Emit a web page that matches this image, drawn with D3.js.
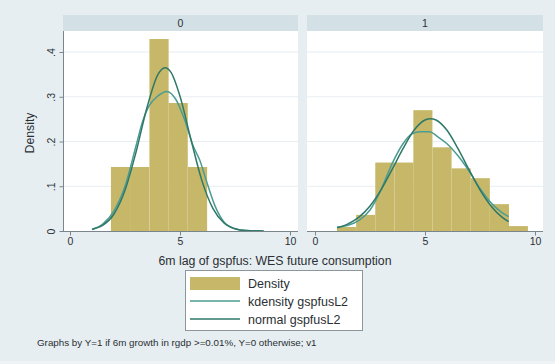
<!DOCTYPE html>
<html>
<head>
<meta charset="utf-8">
<script src="https://cdn.jsdelivr.net/npm/d3@7"></script>
<style>
  html, body { margin: 0; padding: 0; background: #eef3f5; }
  svg { display: block; font-family: "Liberation Sans", Arial, sans-serif; }
</style>
</head>
<body>
<svg id="chart" width="555" height="364"></svg>
<script>
// Panels (by group Y)
const panels = ["0", "1"];

// Histogram bins: left edges and bar densities for each panel
const binStart0 = [1.86, 2.73, 3.61, 4.48, 5.36];
const binDens0  = [0.143, 0.143, 0.429, 0.286, 0.143];
const binWidth0 = 0.873;

const binStart1 = [1.0, 1.87, 2.74, 3.61, 4.47, 5.34, 6.21, 7.08, 7.95, 8.81];
const binDens1  = [0.009, 0.036, 0.153, 0.153, 0.270, 0.187, 0.140, 0.118, 0.060, 0.011];
const binWidth1 = 0.868;

// Kernel density curve (x, density)
const kdX0 = [1.0, 1.5, 2.0, 2.5, 3.0, 3.3, 3.6, 4.0, 4.4, 4.8, 5.2, 5.6, 5.9, 6.2, 6.6, 7.0, 7.5, 8.0, 8.8];
const kdY0 = [0.003, 0.016, 0.045, 0.10, 0.19, 0.245, 0.28, 0.302, 0.312, 0.295, 0.25, 0.19, 0.158, 0.112, 0.055, 0.02, 0.005, 0.001, 0.0];
const kdX1 = [1.0, 1.5, 2.0, 2.5, 3.0, 3.5, 4.0, 4.4, 4.8, 5.2, 5.6, 6.0, 6.5, 7.0, 7.5, 8.0, 8.5, 8.8];
const kdY1 = [0.009, 0.013, 0.024, 0.047, 0.092, 0.15, 0.195, 0.217, 0.222, 0.222, 0.21, 0.195, 0.168, 0.134, 0.095, 0.063, 0.041, 0.032];

// Normal curve (x, density)
const nmX0 = [1.0, 1.5, 2.0, 2.5, 3.0, 3.5, 4.0, 4.32, 4.6, 5.0, 5.5, 6.0, 6.5, 7.0, 7.5, 8.0, 8.8];
const nmY0 = [0.004, 0.013, 0.038, 0.091, 0.176, 0.276, 0.35, 0.365, 0.354, 0.301, 0.204, 0.112, 0.05, 0.018, 0.005, 0.001, 0.0];
const nmX1 = [1.0, 1.5, 2.0, 2.5, 3.0, 3.5, 4.0, 4.5, 5.0, 5.25, 5.5, 6.0, 6.5, 7.0, 7.5, 8.0, 8.5, 8.8];
const nmY1 = [0.007, 0.016, 0.031, 0.056, 0.092, 0.137, 0.184, 0.225, 0.248, 0.251, 0.248, 0.225, 0.184, 0.137, 0.092, 0.056, 0.031, 0.021];

// Axis ticks and labels
const xTicks = [0, 5, 10];
const yTicks = [0, 0.1, 0.2, 0.3, 0.4];
const yTickLabels = ["0", ".1", ".2", ".3", ".4"];

const xTitle = "6m lag of gspfus: WES future consumption";
const yTitle = "Density";
const legendLabels = ["Density", "kdensity gspfusL2", "normal gspfusL2"];
const note = "Graphs by Y=1 if 6m growth in rgdp >=0.01%, Y=0 otherwise; v1";

const colBar = "#c6b868";
const colKd = "#4b9c92";
const colNm = "#2f7868";
const colBg = "#e6eef1";
const colStrip = "#d3e0e6";
const colGrid = "#e8eef1";
const colAxis = "#7b868c";
const colText = "#2b2f33";
const fontFam = "Liberation Sans, Arial, sans-serif";

const svg = d3.select("#chart");
svg.append("rect").attr("x", 0).attr("y", 0).attr("width", 555).attr("height", 361).attr("fill", colBg);

const panelData = [
  { name: panels[0], x0: 63, x1: 298, r0: 70, r1: 290,
    bins: binStart0.map((s, i) => ({ s, d: binDens0[i], w: binWidth0 })),
    kd: kdX0.map((x, i) => [x, kdY0[i]]), nm: nmX0.map((x, i) => [x, nmY0[i]]) },
  { name: panels[1], x0: 307, x1: 543, r0: 315, r1: 535,
    bins: binStart1.map((s, i) => ({ s, d: binDens1[i], w: binWidth1 })),
    kd: kdX1.map((x, i) => [x, kdY1[i]]), nm: nmX1.map((x, i) => [x, nmY1[i]]) }
];

const stripTop = 15, stripBot = 31, plotBot = 231;
const y = d3.scaleLinear().domain([0, 0.4]).range([plotBot, 52]);

panelData.forEach((p, pi) => {
  const x = d3.scaleLinear().domain([0, 10]).range([p.r0, p.r1]);
  const g = svg.append("g");

  // strip header
  g.append("rect").attr("x", p.x0).attr("y", stripTop).attr("width", p.x1 - p.x0).attr("height", stripBot - stripTop).attr("fill", colStrip);
  g.append("text").attr("x", (p.x0 + p.x1) / 2).attr("y", stripTop + 12).attr("text-anchor", "middle")
    .attr("font-size", 10.5).attr("fill", colText).text(p.name);

  // plot region
  g.append("rect").attr("x", p.x0).attr("y", stripBot).attr("width", p.x1 - p.x0).attr("height", plotBot - stripBot).attr("fill", "#ffffff");

  // gridlines
  g.selectAll(".grid").data(yTicks.slice(1)).join("line")
    .attr("x1", p.x0).attr("x2", p.x1).attr("y1", d => y(d)).attr("y2", d => y(d))
    .attr("stroke", colGrid).attr("stroke-width", 1.2);

  // histogram bars
  g.selectAll(".bar").data(p.bins).join("rect")
    .attr("x", d => x(d.s)).attr("width", d => x(d.s + d.w) - x(d.s))
    .attr("y", d => y(d.d)).attr("height", d => y(0) - y(d.d))
    .attr("fill", colBar);

  const line = d3.line().x(d => x(d[0])).y(d => y(d[1])).curve(d3.curveMonotoneX);
  g.append("path").attr("d", line(p.kd)).attr("fill", "none").attr("stroke", colKd).attr("stroke-width", 1.5);
  g.append("path").attr("d", line(p.nm)).attr("fill", "none").attr("stroke", colNm).attr("stroke-width", 1.5);

  // x axis
  g.append("line").attr("x1", p.x0).attr("x2", p.x1).attr("y1", plotBot + 0.5).attr("y2", plotBot + 0.5)
    .attr("stroke", colAxis).attr("stroke-width", 1);
  const xa = g.append("g").attr("transform", `translate(0,${plotBot + 0.5})`)
    .call(d3.axisBottom(x).tickValues(xTicks).tickSize(4).tickPadding(2).tickFormat(d3.format("d")));
  xa.select(".domain").remove();
  xa.selectAll("line").attr("stroke", colAxis);
  xa.selectAll("text").attr("font-size", 10.5).attr("fill", colText).attr("font-family", fontFam);

  // y axis on the first panel only
  if (pi === 0) {
    g.append("line").attr("x1", p.x0 + 0.5).attr("x2", p.x0 + 0.5).attr("y1", stripBot).attr("y2", plotBot)
      .attr("stroke", colAxis).attr("stroke-width", 1);
    const ya = g.append("g").attr("transform", `translate(${p.x0 + 0.5},0)`)
      .call(d3.axisLeft(y).tickValues(yTicks).tickSize(4).tickFormat((d, i) => yTickLabels[i]));
    ya.select(".domain").remove();
    ya.selectAll("line").attr("stroke", colAxis);
    ya.selectAll("text")
      .attr("font-size", 10.5).attr("fill", colText).attr("font-family", fontFam)
      .attr("x", null).attr("dy", null)
      .attr("text-anchor", "middle")
      .attr("transform", "translate(-12,0) rotate(-90)")
      .attr("y", 3.5);
  }
});

// axis titles
svg.append("text").attr("x", 275).attr("y", 265).attr("text-anchor", "middle")
  .attr("font-size", 12.3).attr("fill", colText).text(xTitle);
svg.append("text").attr("transform", "translate(34,133) rotate(-90)").attr("text-anchor", "middle")
  .attr("font-size", 12.3).attr("fill", colText).text(yTitle);

// legend
const lg = svg.append("g");
lg.append("rect").attr("x", 185.5).attr("y", 270.5).attr("width", 177).attr("height", 60)
  .attr("fill", "#ffffff").attr("stroke", "#8c969b").attr("stroke-width", 1);
lg.append("rect").attr("x", 190).attr("y", 277).attr("width", 50).attr("height", 13).attr("fill", colBar);
lg.append("line").attr("x1", 190).attr("x2", 240).attr("y1", 301).attr("y2", 301).attr("stroke", colKd).attr("stroke-width", 1.5);
lg.append("line").attr("x1", 190).attr("x2", 240).attr("y1", 319).attr("y2", 319).attr("stroke", colNm).attr("stroke-width", 1.5);
const lgY = [288, 305.5, 323.5];
legendLabels.forEach((t, i) => {
  lg.append("text").attr("x", 248).attr("y", lgY[i]).attr("font-size", 12.5).attr("fill", colText).text(t);
});

// note
svg.append("text").attr("x", 37).attr("y", 346).attr("font-size", 9.8).attr("fill", colText).text(note);
</script>
</body>
</html>
